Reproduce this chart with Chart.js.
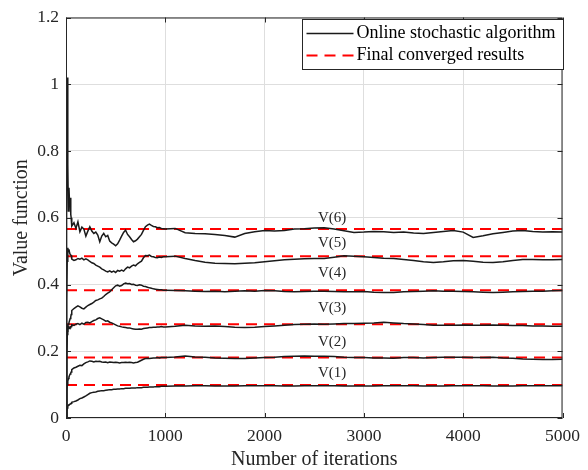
<!DOCTYPE html>
<html>
<head>
<meta charset="utf-8">
<script src="https://cdn.jsdelivr.net/npm/chart.js@4.4.1/dist/chart.umd.min.js"></script>
<style>
  body { margin: 0; background: #fff; }
  #wrap { width: 588px; height: 470px; }
</style>
</head>
<body>
<div id="wrap"><canvas id="chart" width="588" height="470"></canvas></div>
<script>
// Iteration index shared by all six value-function traces
const iterations = [
    0, 6, 12, 18, 24, 30, 36, 42, 48, 52, 56,
    60, 80, 100, 120, 140, 160, 180, 200, 220, 240,
    260, 280, 300, 320, 340, 360, 380, 400, 420, 440,
    460, 480, 500, 520, 540, 560, 580, 600, 620, 640,
    660, 680, 700, 720, 740, 760, 780, 800, 820, 840,
    860, 880, 900, 920, 940, 960, 980,
    1000, 1100, 1200, 1300, 1400, 1500, 1600, 1700, 1800, 1900,
    2000, 2100, 2200, 2300, 2400, 2500, 2600, 2700, 2800, 2900,
    3000, 3100, 3200, 3300, 3400, 3500, 3600, 3700, 3800, 3900,
    4000, 4100, 4200, 4300, 4400, 4500, 4600, 4700, 4800, 4900, 5000
];

const v1 = [
    0, 0.020, 0.030, 0.035, 0.038, 0.040, 0.041, 0.042, 0.043, 0.044, 0.046,
    0.047, 0.049, 0.051, 0.054, 0.058, 0.060, 0.063, 0.066, 0.070, 0.074,
    0.076, 0.077, 0.078, 0.080, 0.081, 0.082, 0.082, 0.083, 0.084, 0.085,
    0.085, 0.086, 0.086, 0.087, 0.087, 0.088, 0.088, 0.089, 0.089, 0.089,
    0.090, 0.090, 0.090, 0.091, 0.091, 0.091, 0.092, 0.092, 0.092, 0.093,
    0.093, 0.093, 0.094, 0.094, 0.094, 0.095, 0.095,
    0.095, 0.096, 0.096, 0.097, 0.097, 0.096, 0.096, 0.096, 0.097, 0.097,
    0.097, 0.097, 0.096, 0.096, 0.097, 0.097, 0.097, 0.097, 0.096, 0.096,
    0.096, 0.096, 0.097, 0.097, 0.097, 0.097, 0.096, 0.096, 0.096, 0.097,
    0.097, 0.097, 0.097, 0.096, 0.096, 0.096, 0.097, 0.097, 0.097, 0.097, 0.097
];
const v2 = [
    0, 0.080, 0.100, 0.110, 0.118, 0.123, 0.128, 0.132, 0.135, 0.138, 0.142,
    0.145, 0.150, 0.152, 0.155, 0.158, 0.157, 0.162, 0.166, 0.168, 0.171,
    0.170, 0.168, 0.170, 0.169, 0.170, 0.168, 0.167, 0.168, 0.166, 0.168,
    0.167, 0.166, 0.167, 0.166, 0.165, 0.166, 0.166, 0.167, 0.166, 0.167,
    0.166, 0.165, 0.166, 0.167, 0.170, 0.173, 0.176, 0.178, 0.179, 0.178,
    0.179, 0.180, 0.180, 0.181, 0.180, 0.181, 0.181,
    0.181, 0.183, 0.186, 0.183, 0.182, 0.180, 0.179, 0.178, 0.178, 0.180,
    0.181, 0.182, 0.184, 0.185, 0.186, 0.185, 0.185, 0.184, 0.182, 0.181,
    0.181, 0.180, 0.180, 0.179, 0.181, 0.181, 0.180, 0.181, 0.182, 0.182,
    0.182, 0.181, 0.181, 0.182, 0.180, 0.179, 0.177, 0.176, 0.175, 0.175, 0.176
];
const v3 = [
    0, 0.180, 0.250, 0.272, 0.268, 0.272, 0.270, 0.273, 0.272, 0.274, 0.277,
    0.279, 0.277, 0.281, 0.283, 0.280, 0.284, 0.281, 0.286, 0.287, 0.285,
    0.289, 0.292, 0.294, 0.298, 0.300, 0.297, 0.294, 0.290, 0.291, 0.287,
    0.285, 0.282, 0.279, 0.276, 0.275, 0.273, 0.272, 0.271, 0.270, 0.270,
    0.268, 0.267, 0.266, 0.266, 0.267, 0.266, 0.268, 0.269, 0.270, 0.271,
    0.271, 0.272, 0.272, 0.273, 0.273, 0.274, 0.273,
    0.273, 0.275, 0.278, 0.276, 0.275, 0.276, 0.274, 0.272, 0.271, 0.272,
    0.274, 0.276, 0.278, 0.280, 0.281, 0.282, 0.281, 0.282, 0.283, 0.283,
    0.284, 0.285, 0.287, 0.285, 0.283, 0.282, 0.280, 0.278, 0.278, 0.278,
    0.279, 0.278, 0.278, 0.279, 0.278, 0.277, 0.277, 0.276, 0.276, 0.275, 0.275
];
const v4 = [
    0, 0.200, 0.260, 0.275, 0.282, 0.286, 0.292, 0.298, 0.303, 0.310, 0.317,
    0.322, 0.328, 0.332, 0.336, 0.333, 0.329, 0.327, 0.332, 0.337, 0.340,
    0.343, 0.347, 0.352, 0.354, 0.357, 0.359, 0.364, 0.370, 0.374, 0.378,
    0.384, 0.390, 0.396, 0.398, 0.395, 0.397, 0.402, 0.404, 0.402, 0.403,
    0.400, 0.401, 0.398, 0.397, 0.399, 0.398, 0.395, 0.394, 0.392, 0.390,
    0.389, 0.387, 0.386, 0.385, 0.384, 0.384, 0.383,
    0.383, 0.382, 0.381, 0.380, 0.379, 0.380, 0.378, 0.380, 0.381, 0.380,
    0.382, 0.381, 0.379, 0.378, 0.379, 0.380, 0.380, 0.379, 0.378, 0.378,
    0.379, 0.377, 0.376, 0.376, 0.378, 0.379, 0.380, 0.381, 0.380, 0.380,
    0.379, 0.378, 0.377, 0.376, 0.377, 0.378, 0.379, 0.380, 0.380, 0.381, 0.382
];
const v5 = [
    0, 0.350, 0.470, 0.510, 0.500, 0.505, 0.495, 0.490, 0.488, 0.487, 0.482,
    0.476, 0.472, 0.474, 0.478, 0.476, 0.479, 0.474, 0.477, 0.474, 0.469,
    0.465, 0.463, 0.458, 0.455, 0.452, 0.447, 0.444, 0.440, 0.438, 0.441,
    0.437, 0.440, 0.436, 0.442, 0.440, 0.443, 0.440, 0.447, 0.452, 0.450,
    0.455, 0.458, 0.456, 0.462, 0.466, 0.470, 0.480, 0.487, 0.486, 0.488,
    0.484, 0.483, 0.481, 0.480, 0.482, 0.481, 0.483,
    0.483, 0.485, 0.478, 0.472, 0.467, 0.464, 0.463, 0.462, 0.464, 0.465,
    0.468, 0.471, 0.474, 0.476, 0.477, 0.478, 0.478, 0.482, 0.486, 0.485,
    0.483, 0.481, 0.479, 0.478, 0.475, 0.472, 0.468, 0.466, 0.468, 0.471,
    0.472, 0.470, 0.467, 0.466, 0.468, 0.472, 0.475, 0.475, 0.474, 0.474, 0.475
];
const v6 = [
    0, 0.700, 1.020, 0.760, 0.620, 0.690, 0.640, 0.660, 0.610, 0.600, 0.590,
    0.575, 0.585, 0.568, 0.588, 0.558, 0.572, 0.566, 0.545, 0.560, 0.573,
    0.560, 0.553, 0.557, 0.548, 0.528, 0.545, 0.553, 0.543, 0.547, 0.530,
    0.525, 0.521, 0.516, 0.522, 0.533, 0.545, 0.556, 0.563, 0.550, 0.543,
    0.535, 0.528, 0.531, 0.536, 0.543, 0.550, 0.562, 0.573, 0.578, 0.581,
    0.577, 0.574, 0.573, 0.570, 0.571, 0.568, 0.567,
    0.566, 0.568, 0.555, 0.553, 0.552, 0.550, 0.547, 0.542, 0.553, 0.558,
    0.562, 0.560, 0.562, 0.566, 0.567, 0.569, 0.570, 0.566, 0.561, 0.556,
    0.557, 0.559, 0.558, 0.556, 0.557, 0.554, 0.553, 0.556, 0.559, 0.562,
    0.557, 0.541, 0.546, 0.552, 0.556, 0.560, 0.562, 0.559, 0.557, 0.558, 0.557
];
const onlineSeries = [v1, v2, v3, v4, v5, v6];

// Final converged value of each state
const converged = [0.099, 0.181, 0.281, 0.383, 0.485, 0.566];
const stateLabels = ['V(1)', 'V(2)', 'V(3)', 'V(4)', 'V(5)', 'V(6)'];
const labelX = 2680;
const labelY = [0.135, 0.228, 0.329, 0.434, 0.524, 0.599];

const xTicks = [0, 1000, 2000, 3000, 4000, 5000];
const yTicks = [0, 0.2, 0.4, 0.6, 0.8, 1, 1.2];

const legendItems = ['Online stochastic algorithm', 'Final converged results'];

const FONT = "'Liberation Serif', 'Times New Roman', serif";
const INK = '#262626';

const datasets = [];
onlineSeries.forEach((vals, i) => {
    datasets.push({
        label: 'online-' + (i + 1),
        data: iterations.map((it, k) => ({ x: it, y: vals[k] })),
        borderColor: '#1a1a1a',
        borderWidth: 1.5,
        pointRadius: 0,
        tension: 0,
        fill: false
    });
});
converged.forEach((v, i) => {
    datasets.push({
        label: 'final-' + (i + 1),
        data: [{ x: xTicks[0], y: v }, { x: xTicks[xTicks.length - 1], y: v }],
        borderColor: '#ff0000',
        borderWidth: 2,
        borderDash: [11, 7],
        pointRadius: 0,
        fill: false
    });
});

const decorPlugin = {
    id: 'decor',
    afterDatasetsDraw(chart) {
        const { ctx, scales: { x, y } } = chart;
        ctx.save();
        ctx.fillStyle = INK;
        ctx.font = '15px ' + FONT;
        ctx.textAlign = 'center';
        ctx.textBaseline = 'middle';
        stateLabels.forEach((t, i) => {
            ctx.fillText(t, x.getPixelForValue(labelX), y.getPixelForValue(labelY[i]));
        });
        ctx.restore();
    },
    afterDraw(chart) {
        const { ctx, chartArea: a, scales: { x, y } } = chart;
        ctx.save();
        // box and inward ticks
        ctx.strokeStyle = INK;
        ctx.lineWidth = 1;
        ctx.strokeRect(a.left + 0.5, a.top + 0.5, a.right - a.left - 1, a.bottom - a.top - 1);
        ctx.beginPath();
        xTicks.forEach(t => {
            const px = Math.round(x.getPixelForValue(t)) + 0.5;
            ctx.moveTo(px, a.bottom); ctx.lineTo(px, a.bottom - 5);
            ctx.moveTo(px, a.top); ctx.lineTo(px, a.top + 5);
        });
        yTicks.forEach(t => {
            const py = Math.round(y.getPixelForValue(t)) + 0.5;
            ctx.moveTo(a.left, py); ctx.lineTo(a.left + 5, py);
            ctx.moveTo(a.right, py); ctx.lineTo(a.right - 5, py);
        });
        ctx.stroke();

        // legend
        const bx = 302.5, by = 19.5, bw = 261, bh = 50;
        ctx.fillStyle = '#fff';
        ctx.fillRect(bx, by, bw, bh);
        ctx.strokeRect(bx, by, bw, bh);
        const rows = [by + 14, by + 36];
        ctx.lineWidth = 1.5;
        ctx.strokeStyle = '#1a1a1a';
        ctx.beginPath();
        ctx.moveTo(bx + 4, rows[0]); ctx.lineTo(bx + 51, rows[0]);
        ctx.stroke();
        ctx.strokeStyle = '#ff0000';
        ctx.lineWidth = 2;
        ctx.setLineDash([11, 7]);
        ctx.beginPath();
        ctx.moveTo(bx + 4, rows[1]); ctx.lineTo(bx + 51, rows[1]);
        ctx.stroke();
        ctx.setLineDash([]);
        ctx.fillStyle = '#000';
        ctx.font = '18px ' + FONT;
        ctx.textAlign = 'left';
        ctx.textBaseline = 'middle';
        legendItems.forEach((t, i) => ctx.fillText(t, bx + 54, rows[i]));
        ctx.restore();
    }
};

new Chart(document.getElementById('chart').getContext('2d'), {
    type: 'line',
    data: { datasets },
    options: {
        responsive: false,
        animation: false,
        layout: { padding: { top: 17, right: 24, left: 0, bottom: 0 } },
        plugins: {
            legend: { display: false },
            tooltip: { enabled: false }
        },
        scales: {
            x: {
                type: 'linear',
                min: 0,
                max: 5000,
                afterFit: s => { s.height = 52; },
                afterBuildTicks: s => { s.ticks = xTicks.map(v => ({ value: v })); },
                ticks: {
                    color: INK,
                    font: { family: FONT, size: 17.5 },
                    padding: 8,
                    maxRotation: 0,
                    callback: v => String(v)
                },
                grid: { color: '#dedede', drawTicks: false },
                border: { display: false },
                title: {
                    display: true,
                    text: 'Number of iterations',
                    color: INK,
                    font: { family: FONT, size: 20 },
                    padding: { top: 0, bottom: -2 }
                }
            },
            y: {
                type: 'linear',
                min: 0,
                max: 1.2,
                afterFit: s => { s.width = 66; },
                afterBuildTicks: s => { s.ticks = yTicks.map(v => ({ value: v })); },
                ticks: {
                    color: INK,
                    font: { family: FONT, size: 17.5 },
                    padding: 7,
                    callback: v => String(Math.round(v * 10) / 10)
                },
                grid: { color: '#dedede', drawTicks: false },
                border: { display: false },
                title: {
                    display: true,
                    text: 'Value function',
                    color: INK,
                    font: { family: FONT, size: 20 },
                    padding: { top: 9.5, bottom: 0 }
                }
            }
        }
    },
    plugins: [decorPlugin]
});
</script>
</body>
</html>
